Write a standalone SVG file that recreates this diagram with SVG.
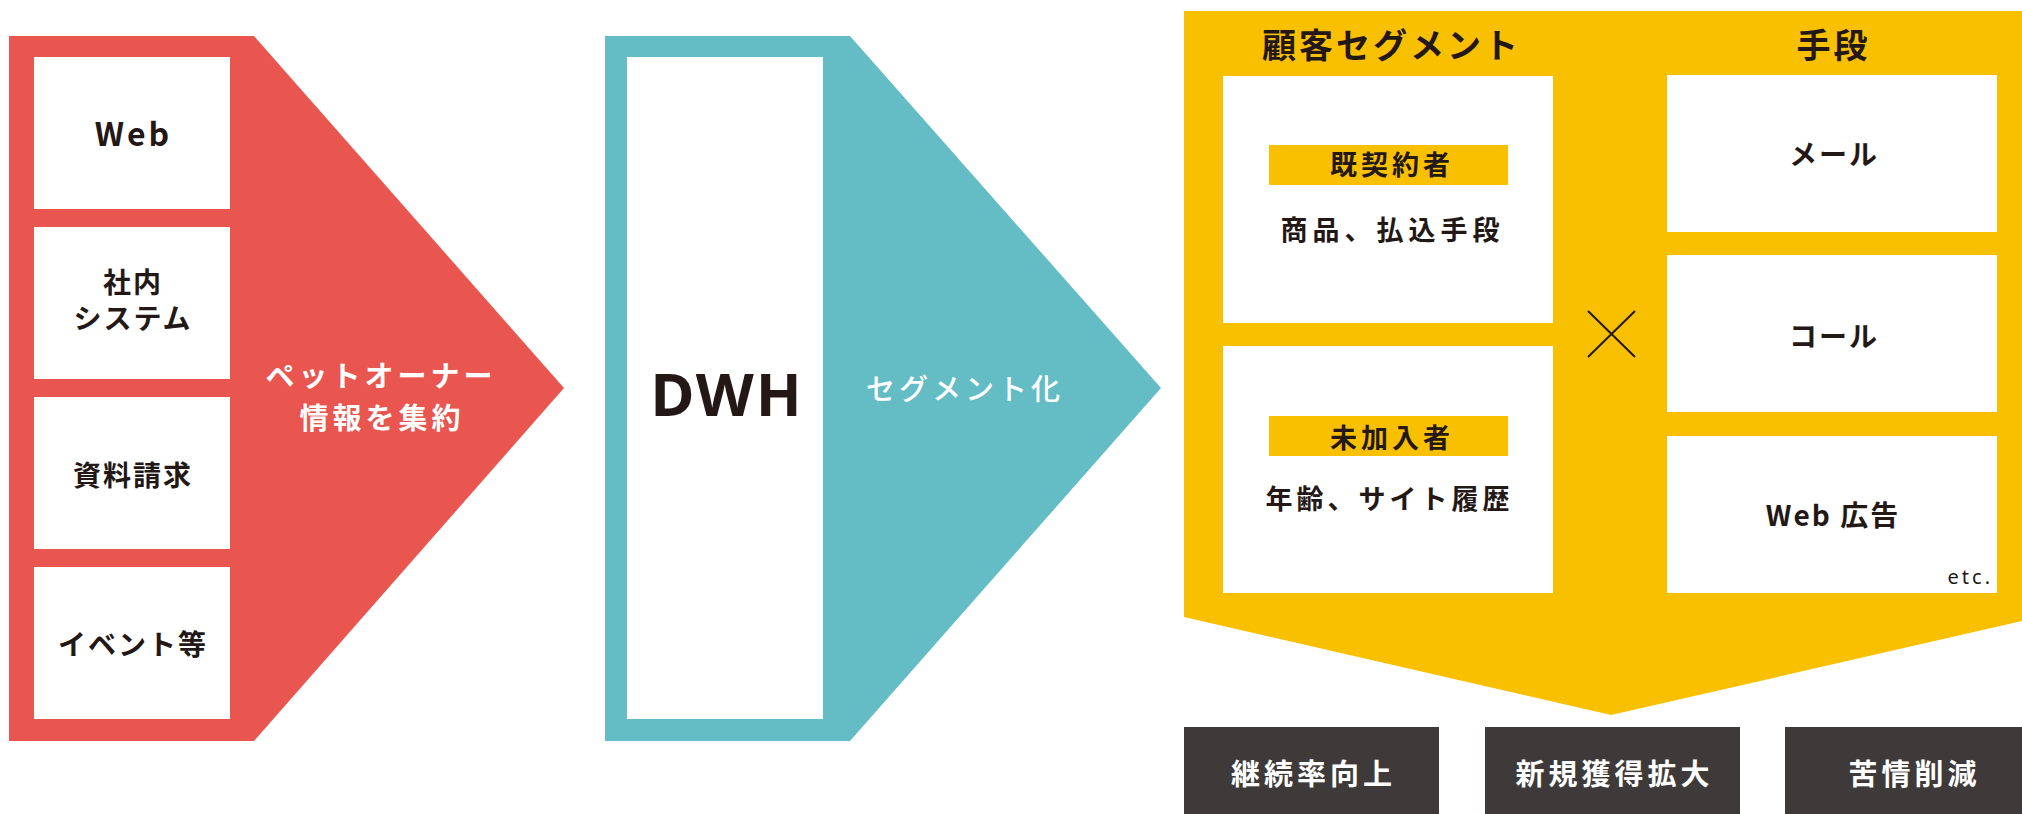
<svg xmlns="http://www.w3.org/2000/svg" width="2022" height="814" viewBox="0 0 2022 814">
<style>
.red{fill:#E9554F}
.teal{fill:#64BCC5}
.yel{fill:#F9C000}
.box{fill:#FFFFFF}
.dark{fill:#3E3A39}
text{font-family:"Noto Sans CJK JP","Noto Sans",sans-serif;font-weight:bold;text-anchor:middle}
.t{fill:#231815;font-size:28px;letter-spacing:2px}
.w{fill:#FFFFFF;font-size:29px;letter-spacing:4px}
.h{fill:#231815;font-size:34px;letter-spacing:3px}
.s{fill:#231815;font-size:27px;letter-spacing:5px}
</style>
<g id="collect">
<polygon class="red" points="9,36 254,36 564,388 254,741 9,741"/>
<g id="src-web"><rect class="box" x="34" y="57" width="196" height="152"/><text class="t" x="133.5" y="146" style="font-size:32px;letter-spacing:3px">Web</text></g>
<g id="src-internal"><rect class="box" x="34" y="227" width="196" height="152"/><text class="t" x="133" y="293">社内</text><text class="t" x="133" y="329">システム</text></g>
<g id="src-request"><rect class="box" x="34" y="397" width="196" height="152"/><text class="t" x="133" y="486">資料請求</text></g>
<g id="src-event"><rect class="box" x="34" y="567" width="196" height="152"/><text class="t" x="133" y="655">イベント等</text></g>
<text class="w" x="381" y="387">ペットオーナー</text>
<text class="w" x="382" y="429">情報を集約</text>
</g>
<g id="dwh">
<polygon class="teal" points="605,36 850,36 1161,388 850,741 605,741"/>
<rect class="box" x="627" y="57" width="196" height="662"/>
<text x="727" y="416" style="fill:#231815;font-family:'Noto Sans',sans-serif;font-size:60px;letter-spacing:2px">DWH</text>
<text class="w" x="965" y="400" style="font-weight:500">セグメント化</text>
</g>
<g id="segment">
<polygon class="yel" points="1184,11 2040,11 2040,617 1611,715 1184,617"/>
<text class="h" x="1391.5" y="58">顧客セグメント</text>
<text class="h" x="1833.5" y="58">手段</text>
<g id="seg-existing"><rect class="box" x="1223" y="76" width="330" height="247"/><rect class="yel" x="1269" y="145" width="239" height="40"/><text class="s" x="1392" y="175" style="letter-spacing:4px">既契約者</text><text class="s" x="1392.5" y="240">商品、払込手段</text></g>
<g id="seg-new"><rect class="box" x="1223" y="346" width="330" height="247"/><rect class="yel" x="1269" y="416" width="239" height="40"/><text class="s" x="1392" y="448" style="letter-spacing:4px">未加入者</text><text class="s" x="1389.5" y="509" style="letter-spacing:4px">年齢、サイト履歴</text></g>
<g id="ch-mail"><rect class="box" x="1667" y="75" width="330" height="157"/><text class="t" x="1834" y="165">メール</text></g>
<g id="ch-call"><rect class="box" x="1667" y="255" width="330" height="157"/><text class="t" x="1834" y="347">コール</text></g>
<g id="ch-web"><rect class="box" x="1667" y="436" width="330" height="157"/><text class="t" x="1833" y="526">Web 広告</text><text x="1993" y="584" style="fill:#231815;font-family:'Noto Sans',sans-serif;font-weight:normal;font-size:20px;letter-spacing:3px;text-anchor:end">etc.</text></g>
</g>
<g id="connectors">
<path d="M1588,311 L1635,357 M1635,311 L1588,357" stroke="#231815" stroke-width="2" fill="none"/>
</g>
<g id="goal-retention"><rect class="dark" x="1184" y="727" width="255" height="87"/><text class="w" x="1313.5" y="785">継続率向上</text></g>
<g id="goal-acquisition"><rect class="dark" x="1485" y="727" width="255" height="87"/><text class="w" x="1614.5" y="785">新規獲得拡大</text></g>
<g id="goal-complaint"><rect class="dark" x="1785" y="727" width="255" height="87"/><text class="w" x="1914.5" y="785">苦情削減</text></g>
</svg>
